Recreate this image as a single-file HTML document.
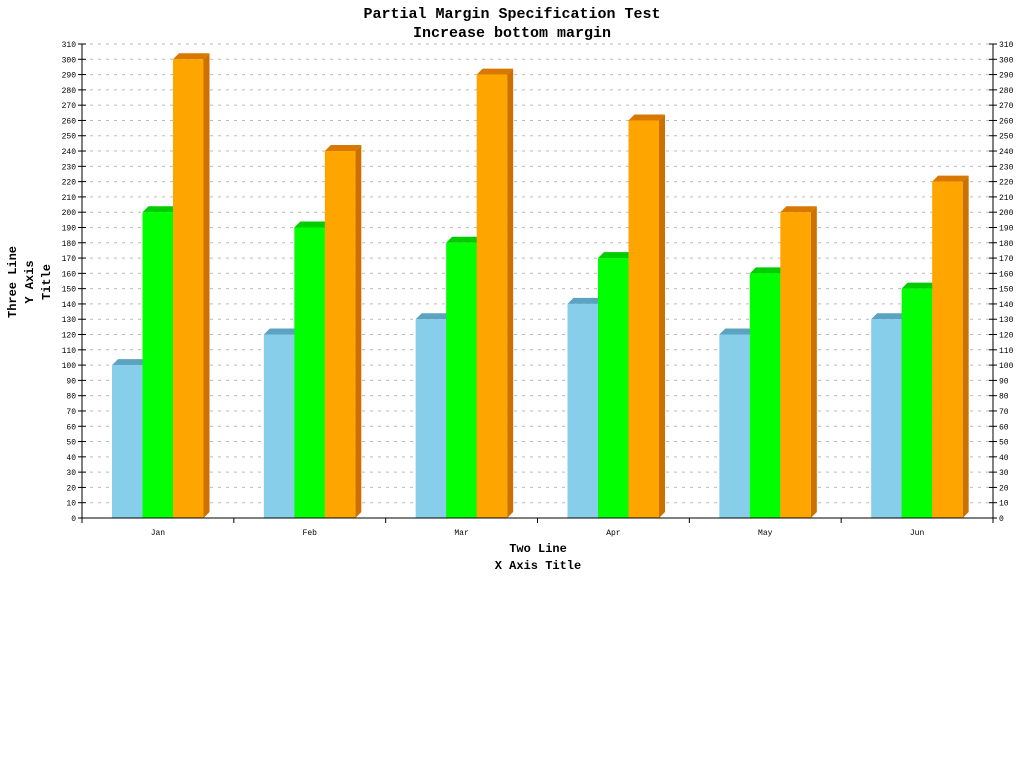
<!DOCTYPE html>
<html><head><meta charset="utf-8"><style>
body{margin:0;background:#fff;}
svg text{font-family:"Liberation Mono","DejaVu Sans Mono",monospace;fill:#000;}
</style></head><body>
<svg id="chart" width="1024" height="768" xmlns="http://www.w3.org/2000/svg">
<rect width="1024" height="768" fill="#fff"/>
<text x="512" y="18" text-anchor="middle" font-size="15" font-weight="bold">Partial Margin Specification Test</text>
<text x="512" y="37" text-anchor="middle" font-size="15" font-weight="bold">Increase bottom margin</text>
<g id="grid"></g><g id="bars"></g><g id="axes"></g>
<text x="538" y="552" text-anchor="middle" font-size="12" font-weight="bold">Two Line</text>
<text x="538" y="569" text-anchor="middle" font-size="12" font-weight="bold">X Axis Title</text>
<text x="0" y="0" transform="translate(16,282) rotate(-90)" text-anchor="middle" font-size="12" font-weight="bold">Three Line</text>
<text x="0" y="0" transform="translate(33,282) rotate(-90)" text-anchor="middle" font-size="12" font-weight="bold">Y Axis</text>
<text x="0" y="0" transform="translate(50,282) rotate(-90)" text-anchor="middle" font-size="12" font-weight="bold">Title</text>
</svg>
<script>
const categories=["Jan","Feb","Mar","Apr","May","Jun"];
const series1=[100,120,130,140,120,130];
const series2=[200,190,180,170,160,150];
const series3=[300,240,290,260,200,220];
const yTicks=[0,10,20,30,40,50,60,70,80,90,100,110,120,130,140,150,160,170,180,190,200,210,220,230,240,250,260,270,280,290,300,310];
const NS="http://www.w3.org/2000/svg";
const X0=82,X1=993,Y0=518,Y1=44,YMAX=310;
const y=v=>Y0-(v/YMAX)*(Y0-Y1);
const gw=(X1-X0)/categories.length;
const x=i=>X0+i*gw;
function mk(tag,attrs,parent){const e=document.createElementNS(NS,tag);for(const k in attrs)e.setAttribute(k,attrs[k]);document.getElementById(parent).appendChild(e);return e;}
yTicks.forEach(t=>{
  if(t>0){const g=mk('line',{x1:X0+8,x2:X1,y1:y(t),y2:y(t),stroke:'#bbb','stroke-dasharray':'3,5'},'grid');
  
  }
  const l=mk('line',{x1:X0-4,x2:X0+4,y1:y(t),y2:y(t),stroke:'#000'},'axes');
  
  
  const r=mk('line',{x1:X1-4,x2:X1+4,y1:y(t),y2:y(t),stroke:'#000'},'axes');
  
  
  const a=mk('text',{x:X0-6,y:y(t)+3,'text-anchor':'end','font-size':'8'},'axes');a.textContent=t;
  
  
  const b=mk('text',{x:X1+6,y:y(t)+3,'font-size':'8'},'axes');b.textContent=t;
  
  
});
const S=[[series1,'#87ceeb','#5ba3c0','#4f95b3'],[series2,'#00ff00','#00cc00','#00b000'],[series3,'#ffa500','#d97800','#cc7000']];
const bw=30.5,d=6;
categories.forEach((c,i)=>{
  S.forEach((s,j)=>{
    const v=s[0][i],bx=x(i)+30+j*bw,by=y(v);
    const side=mk('polygon',{points:`${bx+bw},${by} ${bx+bw+d},${by-d} ${bx+bw+d},${Y0-d} ${bx+bw},${Y0}`,fill:s[3]},'bars');
    
    
    const top=mk('polygon',{points:`${bx},${by} ${bx+d},${by-d} ${bx+bw+d},${by-d} ${bx+bw},${by}`,fill:s[2]},'bars');
    
    
    const r=mk('rect',{x:bx,y:by,width:bw,height:Y0-by,fill:s[1]},'bars');
    
    
  });
  const tl=mk('text',{x:x(i)+gw/2,y:535,'text-anchor':'middle','font-size':'8'},'axes');tl.textContent=c;
  
  
});
for(let i=0;i<=categories.length;i++){const t=mk('line',{x1:x(i),x2:x(i),y1:Y0,y2:Y0+5,stroke:'#000'},'axes');
  
  }
const ya=mk('line',{x1:X0,x2:X0,y1:Y1,y2:Y0,stroke:'#000'},'axes');


const ya2=mk('line',{x1:X1,x2:X1,y1:Y1,y2:Y0,stroke:'#000'},'axes');


const xa=mk('line',{x1:X0,x2:X1,y1:Y0,y2:Y0,stroke:'#000'},'axes');


</script>
</body></html>
